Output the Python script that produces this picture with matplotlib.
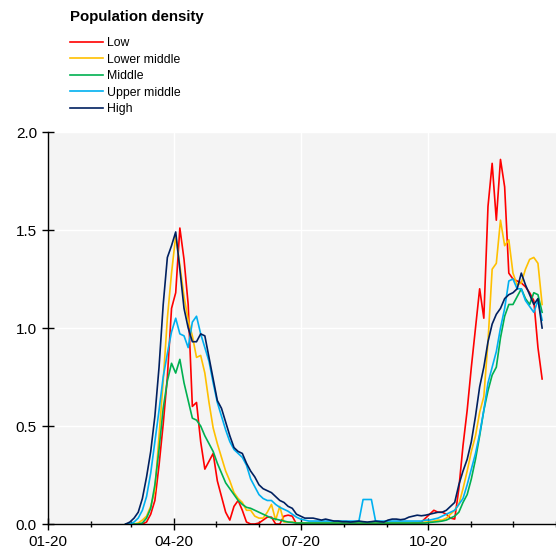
import pandas as pd
import matplotlib
matplotlib.use('Agg')
import matplotlib.pyplot as plt
import matplotlib.dates as mdates
from matplotlib.ticker import FormatStrFormatter

plt.rcParams['font.family'] = ['Liberation Sans', 'DejaVu Sans']

# 3-day grid of observation dates, 26 Feb to 22 Dec 2020
dates = pd.date_range('2020-02-26', '2020-12-22', freq='3D')

low = [
    0, 0, 0, 0, 0, 0.01, 0.05, 0.12, 0.30, 0.51,
    0.75, 1.10, 1.18, 1.51, 1.35, 1.12, 0.60, 0.62, 0.42, 0.28,
    0.32, 0.36, 0.22, 0.14, 0.06, 0.02, 0.09, 0.12, 0.07, 0.01,
    0, 0, 0.005, 0.02, 0.035, 0.035, 0, 0, 0.04, 0.045,
    0.04, 0, 0, 0, 0, 0, 0, 0, 0, 0,
    0, 0, 0, 0, 0, 0, 0, 0, 0, 0,
    0, 0, 0, 0, 0, 0, 0, 0, 0, 0.005,
    0.005, 0.01, 0.03, 0.05, 0.07, 0.06, 0.06, 0.05, 0.03, 0.025,
    0.18, 0.40, 0.58, 0.80, 1.00, 1.20, 1.05, 1.62, 1.84, 1.55,
    1.86, 1.72, 1.28, 1.25, 1.24, 1.23, 1.21, 1.18, 1.14, 0.90, 0.74,
]
lower_middle = [
    0, 0, 0, 0.005, 0.02, 0.04, 0.09, 0.17, 0.45, 0.73,
    1.05, 1.28, 1.47, 1.32, 1.16, 1.04, 0.96, 0.85, 0.86, 0.77,
    0.62, 0.49, 0.41, 0.34, 0.27, 0.22, 0.16, 0.13, 0.11, 0.07,
    0.07, 0.04, 0.03, 0.03, 0.06, 0.10, 0.02, 0.09, 0.01, 0.01,
    0.01, 0.005, 0.005, 0.005, 0.005, 0.005, 0.005, 0.005, 0.005, 0.005,
    0.005, 0.005, 0.005, 0.005, 0.005, 0.005, 0.005, 0.005, 0.005, 0.005,
    0.005, 0.005, 0.005, 0.005, 0.005, 0.005, 0.005, 0.005, 0.005, 0.005,
    0.005, 0.005, 0.01, 0.01, 0.015, 0.02, 0.02, 0.03, 0.05, 0.07,
    0.10, 0.18, 0.27, 0.37, 0.45, 0.57, 0.65, 0.93, 1.30, 1.33,
    1.55, 1.42, 1.45, 1.28, 1.22, 1.23, 1.30, 1.35, 1.36, 1.33, 1.12,
]
middle = [
    0, 0, 0, 0, 0.005, 0.03, 0.08, 0.20, 0.38, 0.59,
    0.73, 0.82, 0.77, 0.84, 0.72, 0.63, 0.54, 0.53, 0.50, 0.45,
    0.41, 0.37, 0.31, 0.26, 0.21, 0.18, 0.15, 0.12, 0.10, 0.085,
    0.08, 0.07, 0.06, 0.05, 0.04, 0.03, 0.025, 0.02, 0.015, 0.01,
    0.008, 0.005, 0.005, 0.005, 0.005, 0.005, 0.005, 0.005, 0.005, 0.005,
    0.005, 0.005, 0.005, 0.005, 0.005, 0.005, 0.005, 0.005, 0.005, 0.005,
    0.005, 0.005, 0.005, 0.005, 0.005, 0.005, 0.005, 0.005, 0.005, 0.005,
    0.005, 0.005, 0.005, 0.008, 0.01, 0.012, 0.015, 0.02, 0.03, 0.04,
    0.06, 0.11, 0.15, 0.23, 0.33, 0.45, 0.58, 0.68, 0.76, 0.80,
    0.95, 1.06, 1.12, 1.12, 1.16, 1.20, 1.15, 1.12, 1.18, 1.17, 1.08,
]
upper_middle = [
    0, 0, 0.01, 0.03, 0.07, 0.14, 0.26, 0.42, 0.58, 0.75,
    0.87, 0.98, 1.05, 0.97, 0.96, 0.90, 1.03, 1.06, 0.97, 0.90,
    0.83, 0.72, 0.62, 0.55, 0.48, 0.42, 0.38, 0.36, 0.34, 0.30,
    0.23, 0.19, 0.15, 0.13, 0.12, 0.12, 0.10, 0.085, 0.075, 0.065,
    0.05, 0.035, 0.025, 0.02, 0.015, 0.015, 0.015, 0.015, 0.015, 0.015,
    0.015, 0.015, 0.015, 0.015, 0.015, 0.015, 0.015, 0.125, 0.125, 0.125,
    0.015, 0.015, 0.015, 0.015, 0.015, 0.015, 0.015, 0.015, 0.015, 0.015,
    0.015, 0.015, 0.02, 0.02, 0.025, 0.03, 0.04, 0.05, 0.06, 0.07,
    0.10, 0.13, 0.20, 0.28, 0.36, 0.46, 0.58, 0.72, 0.80, 0.88,
    1.00, 1.10, 1.24, 1.25, 1.20, 1.20, 1.14, 1.11, 1.08, 1.14, 1.04,
]
high = [
    0, 0.01, 0.03, 0.06, 0.13, 0.24, 0.37, 0.55, 0.80, 1.12,
    1.36, 1.42, 1.49, 1.30, 1.10, 1.00, 0.93, 0.93, 0.97, 0.96,
    0.85, 0.74, 0.63, 0.59, 0.52, 0.45, 0.39, 0.37, 0.36, 0.31,
    0.27, 0.24, 0.20, 0.18, 0.17, 0.16, 0.14, 0.12, 0.11, 0.09,
    0.08, 0.05, 0.04, 0.03, 0.03, 0.03, 0.025, 0.02, 0.025, 0.02,
    0.015, 0.015, 0.012, 0.012, 0.01, 0.012, 0.015, 0.012, 0.01, 0.012,
    0.015, 0.012, 0.01, 0.02, 0.025, 0.025, 0.022, 0.025, 0.035, 0.04,
    0.045, 0.042, 0.045, 0.05, 0.055, 0.06, 0.06, 0.07, 0.09, 0.11,
    0.20, 0.27, 0.33, 0.42, 0.55, 0.70, 0.80, 0.93, 1.02, 1.07,
    1.10, 1.15, 1.17, 1.18, 1.20, 1.28, 1.22, 1.17, 1.12, 1.15, 1.00,
]

labels = ['Low', 'Lower middle', 'Middle', 'Upper middle', 'High']
colors = ['#FF0000', '#FFC000', '#00B050', '#00B0F0', '#002060']
series = [low, lower_middle, middle, upper_middle, high]

fig = plt.figure(figsize=(5.56, 5.49), dpi=100)
ax = fig.add_axes([48 / 556, 25 / 549, 508 / 556, 392 / 549])
ax.set_facecolor('#F4F4F4')

for vals, lab, col in zip(series, labels, colors):
    ax.plot(dates, vals, color=col, lw=1.2, label=lab)

ax.set_xlim(pd.Timestamp('2020-01-01'), pd.Timestamp('2021-01-01'))
ax.set_ylim(0, 2.0)
ax.set_yticks([0, 0.5, 1.0, 1.5, 2.0])
ax.yaxis.set_major_formatter(FormatStrFormatter('%.1f'))
ax.set_xticks(pd.to_datetime(['2020-01-01', '2020-04-01', '2020-07-01', '2020-10-01']))
ax.xaxis.set_major_formatter(mdates.DateFormatter('%m-%y'))
ax.xaxis.set_minor_locator(mdates.MonthLocator())

ax.grid(True, color='white', lw=1)
ax.set_axisbelow(True)
for s in ['top', 'right']:
    ax.spines[s].set_visible(False)
for s in ['left', 'bottom']:
    ax.spines[s].set_linewidth(1)
ax.tick_params(which='major', direction='inout', length=8, width=1, labelsize=11, pad=4)
ax.tick_params(which='minor', direction='inout', length=5, width=1)

fig.text(70 / 556, 1 - 17 / 549, 'Population density', fontsize=10.8,
         fontweight='bold', va='center', ha='left')
fig.legend(loc='upper left', bbox_to_anchor=(70 / 556, 1 - 37 / 549), frameon=False,
           fontsize=8.85, handlelength=2.7, handletextpad=0.3, labelspacing=0.37,
           borderpad=0, borderaxespad=0)

fig.savefig('out.png', dpi=100)
